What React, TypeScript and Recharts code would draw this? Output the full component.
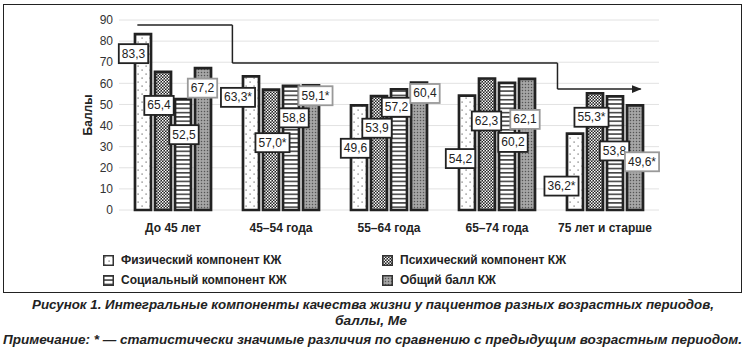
import React from "react";
import {
  BarChart,
  Bar,
  XAxis,
  YAxis,
  CartesianGrid,
  Legend,
  LabelList,
  ReferenceLine,
} from "recharts";

const CATEGORIES = ["До 45 лет", "45–54 года", "55–64 года", "65–74 года", "75 лет и старше"];
const PHYSICAL = [83.3, 63.3, 49.6, 54.2, 36.2];
const PSYCHIC = [65.4, 57.0, 53.9, 62.3, 55.3];
const SOCIAL = [52.5, 58.8, 57.2, 60.2, 53.8];
const TOTAL = [67.2, 59.1, 60.4, 62.1, 49.6];
// * — significant vs previous age group
const PHYSICAL_SIG = [false, true, false, false, true];
const PSYCHIC_SIG = [false, true, false, false, true];
const SOCIAL_SIG = [false, false, false, false, false];
const TOTAL_SIG = [false, true, false, false, true];
const Y_TICKS = [0, 10, 20, 30, 40, 50, 60, 70, 80, 90];
// trend arrow, x in age-group index units (group centre = index), y in score
const ARROW_X = [-0.33, 0.55, 0.55, 3.56, 3.56, 4.33];
const ARROW_Y = [87.6, 87.6, 69.6, 69.6, 57.3, 57.3];

const SERIES = [
  { key: "physical", name: "Физический компонент КЖ", values: PHYSICAL, sig: PHYSICAL_SIG, fill: "url(#pDots)", box: "#222" },
  { key: "psychic", name: "Психический компонент КЖ", values: PSYCHIC, sig: PSYCHIC_SIG, fill: "url(#pCheck)", box: "#222" },
  { key: "social", name: "Социальный компонент КЖ", values: SOCIAL, sig: SOCIAL_SIG, fill: "url(#pStripes)", box: "#222" },
  { key: "total", name: "Общий балл КЖ", values: TOTAL, sig: TOTAL_SIG, fill: "url(#pGray)", box: "#999" },
];

// where each value box sits: [dx from bar centre, dy from bar top]
const LABEL_OFFSETS: [number, number][][] = [
  [[-9.5, 19.5], [-13, 21], [-3.5, 43], [-6.5, 63], [-13.5, 52.5]],
  [[-4, 33.5], [1.5, 53], [-2, 32], [-0.5, 42.5], [-3.5, 24]],
  [[1, 35.5], [3, 32], [-2.5, 18], [6, 59.5], [-0.5, 54.5]],
  [[-0.5, 20], [4.5, 10.5], [6, 11], [-2, 40.5], [7, 56.5]],
];

const data = CATEGORIES.map((name, i) => {
  const row: Record<string, any> = { name, slot: i };
  SERIES.forEach((s) => {
    row[s.key] = s.values[i];
    row[s.key + "Label"] = s.values[i].toFixed(1).replace(".", ",") + (s.sig[i] ? "*" : "");
  });
  return row;
});

const textWidth = (t: string) =>
  t.split("").reduce((w, c) => w + (c === "," ? 3.3 : c === "*" ? 4.7 : 6.7), 0);

const makeLabel = (si: number) => (props: any) => {
  const { x, y, width, value, index } = props;
  const [dx, dy] = LABEL_OFFSETS[si][index];
  const cx = Number(x) + Number(width) / 2 + dx;
  const cy = Number(y) + dy;
  const bw = textWidth(String(value)) + 6;
  return (
    <g>
      <rect x={cx - bw / 2} y={cy - 9.5} width={bw} height={19} fill="#fff" stroke={SERIES[si].box} strokeWidth={1.8} />
      <text x={cx} y={cy} textAnchor="middle" dominantBaseline="central" fontSize={12} fill="#222">
        {value}
      </text>
    </g>
  );
};

const YLabel = (props: any) => {
  const { x, y, width, height } = props.viewBox;
  const cx = x + width - 31;
  const cy = y + height / 2;
  return (
    <text x={cx} y={cy} transform={`rotate(-90 ${cx} ${cy})`} textAnchor="middle" dominantBaseline="central" fontSize={12} fontWeight="bold" fill="#222">
      Баллы
    </text>
  );
};

const renderLegend = () => (
  <div style={{ position: "relative", height: 40 }}>
    {SERIES.map((s, i) => (
      <div
        key={s.key}
        style={{
          position: "absolute",
          left: i % 2 === 0 ? 103 : 382,
          top: i < 2 ? 6 : 26,
          display: "flex",
          alignItems: "center",
          height: 12,
        }}
      >
        <svg width={11} height={11} style={{ display: "block" }}>
          <rect x={0.75} y={0.75} width={9.5} height={9.5} fill={s.fill} stroke="#333" strokeWidth={1.5} />
        </svg>
        <span style={{ marginLeft: 7, fontSize: 12, fontWeight: "bold", color: "#222", whiteSpace: "nowrap" }}>{s.name}</span>
      </div>
    ))}
  </div>
);

const arrowSegments = ARROW_X.slice(1).map((_, i) => [
  { x: ARROW_X[i], y: ARROW_Y[i] },
  { x: ARROW_X[i + 1], y: ARROW_Y[i + 1] },
]);

export default function App() {
  const font = '"Liberation Sans", Arial, sans-serif';
  return (
    <div style={{ position: "relative", width: 746, height: 356, background: "#fff", fontFamily: font, overflow: "hidden" }}>
      <style>{`body{margin:0}`}</style>
      <BarChart
        width={746}
        height={292}
        data={data}
        margin={{ top: 20, right: 87, left: 0, bottom: 12 }}
        barSize={16}
        barGap={4}
        style={{ fontFamily: font }}
      >
        <defs>
          <pattern id="pDots" width={8} height={8} patternUnits="userSpaceOnUse">
            <rect width={8} height={8} fill="#fff" />
            <rect x={1.5} y={1.5} width={1.2} height={1.2} fill="#666" />
            <rect x={5.5} y={5.5} width={1.2} height={1.2} fill="#666" />
          </pattern>
          <pattern id="pCheck" width={3} height={3} patternUnits="userSpaceOnUse">
            <rect width={3} height={3} fill="#222" />
            <rect x={0} y={0} width={1.5} height={1.5} fill="#fff" />
            <rect x={1.5} y={1.5} width={1.5} height={1.5} fill="#eee" />
          </pattern>
          <pattern id="pStripes" width={4} height={4.3} patternUnits="userSpaceOnUse">
            <rect width={4} height={4.3} fill="#fff" />
            <rect x={0} y={0} width={4} height={1.6} fill="#444" />
          </pattern>
          <pattern id="pGray" width={3} height={3} patternUnits="userSpaceOnUse">
            <rect width={3} height={3} fill="#999" />
            <rect x={0} y={0} width={1} height={1} fill="#555" />
            <rect x={1.5} y={1.5} width={1} height={1} fill="#cfcfcf" />
          </pattern>
          <marker id="arrowHead" markerWidth={10} markerHeight={8} refX={9} refY={4} orient="auto" markerUnits="userSpaceOnUse">
            <path d="M0,0 L10,4 L0,8 z" fill="#222" />
          </marker>
        </defs>
        <CartesianGrid vertical={false} stroke="#e2e2e2" />
        <XAxis
          dataKey="name"
          axisLine={false}
          tickLine={false}
          tickSize={0}
          tickMargin={13}
          height={30}
          tick={{ fontSize: 12, fontWeight: "bold", fill: "#222" }}
        />
        <XAxis xAxisId="arrow" dataKey="slot" type="number" domain={[-0.5, 4.5]} allowDataOverflow hide />
        <YAxis
          domain={[0, 90]}
          ticks={Y_TICKS}
          width={119}
          axisLine={false}
          tickLine={false}
          tickSize={6}
          tickMargin={0}
          interval={0}
          tick={{ fontSize: 12, fill: "#333" }}
          label={<YLabel />}
        />
        {arrowSegments.map((seg, i) => (
          <ReferenceLine
            key={i}
            xAxisId="arrow"
            segment={seg}
            ifOverflow="visible"
            shape={(p: any) => (
              <line
                x1={p.x1}
                y1={p.y1}
                x2={p.x2}
                y2={p.y2}
                stroke="#222"
                strokeWidth={1.5}
                markerEnd={i === arrowSegments.length - 1 ? "url(#arrowHead)" : undefined}
              />
            )}
          />
        ))}
        {SERIES.map((s, si) => (
          <Bar key={s.key} dataKey={s.key} name={s.name} fill={s.fill} stroke="#222" strokeWidth={2.7} isAnimationActive={false}>
            <LabelList dataKey={s.key + "Label"} content={makeLabel(si)} />
          </Bar>
        ))}
        <Legend
          verticalAlign="bottom"
          content={renderLegend}
          wrapperStyle={{ position: "absolute", top: 248, left: 0, width: 746, height: 40 }}
        />
      </BarChart>
      <div
        style={{
          position: "absolute",
          left: 3,
          top: 4,
          width: 739,
          height: 289,
          border: "1.5px solid #222",
          boxSizing: "border-box",
          pointerEvents: "none",
        }}
      />
      <svg width={746} height={64} style={{ position: "absolute", left: 0, top: 292 }}>
        <g fontFamily={font} fontWeight="bold" fontStyle="italic" fontSize={13} fill="#222">
          <text x={373} y={16.5} textAnchor="middle" textLength={682} lengthAdjust="spacingAndGlyphs">
            Рисунок 1. Интегральные компоненты качества жизни у пациентов разных возрастных периодов,
          </text>
          <text x={371} y={32.5} textAnchor="middle" textLength={72} lengthAdjust="spacingAndGlyphs">
            баллы, Ме
          </text>
          <text x={372.5} y={51.5} textAnchor="middle" textLength={739} lengthAdjust="spacingAndGlyphs">
            Примечание: * — статистически значимые различия по сравнению с предыдущим возрастным периодом.
          </text>
        </g>
      </svg>
    </div>
  );
}
